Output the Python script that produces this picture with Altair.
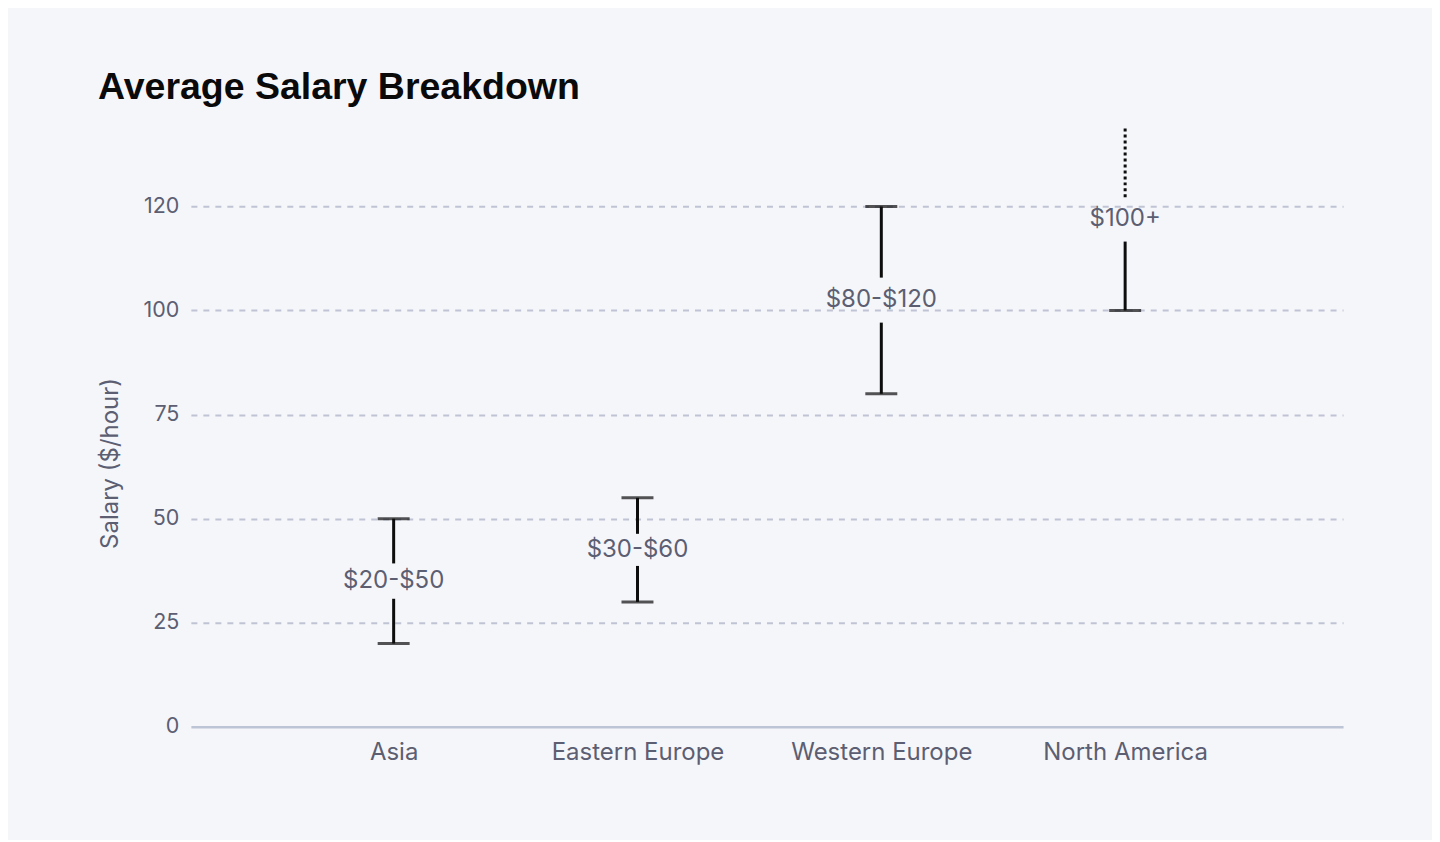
import altair as alt
import pandas as pd

# ---- data ----
regions = ["Asia", "Eastern Europe", "Western Europe", "North America"]
low = [20, 30, 80, 100]
high = [50, 55, 120, 135]
range_labels = ["$20-$50", "$30-$60", "$80-$120", "$100+"]
open_ended = [False, False, False, True]
tick_values = [0, 25, 50, 75, 100, 120]
tick_labels = ["0", "25", "50", "75", "100", "120"]

df = pd.DataFrame({
    "region": regions, "low": low, "high": high,
    "label": range_labels, "open": open_ended,
})

BG = "#f5f6fa"
TEXT = "#5c5e72"
GRID = "#c0c3d3"
AXISLINE = "#bcc4d6"
INK = "#0d0d0d"
FONT = "Inter"

# piecewise axis: evenly spaced ticks 0,25,50,75,100,120
def pos(f):
    return f"datum.{f} <= 100 ? datum.{f} / 25 : 4 + (datum.{f} - 100) / 20"

label_js = "[" + ",".join(f"'{t}'" for t in tick_labels) + "]"

base = alt.Chart(df).transform_calculate(
    plo=pos("low"), phi=pos("high")
).transform_calculate(
    pmid="(datum.plo + datum.phi) / 2",
    gh="(0.1536 + 0.155 * (datum.phi - datum.plo)) / 2",
).transform_calculate(
    lo_end="datum.pmid - datum.gh",
    up_start="datum.pmid + datum.gh",
)

x_enc = alt.X(
    "region:N", sort=regions,
    scale=alt.Scale(type="point", padding=0.8627, align=0.482),
    axis=alt.Axis(title=None, labelAngle=0, labelFontSize=24, labelColor=TEXT,
                  labelFont=FONT, labelPadding=14, labelLimit=400, ticks=False,
                  domainColor=AXISLINE, domainWidth=2.5, grid=False),
)

y_axis = alt.Axis(
    title="Salary ($/hour)", titleFont=FONT, titleFontSize=24, titleFontWeight="normal",
    titleColor=TEXT, titlePadding=21, titleY=340,
    values=list(range(len(tick_values))), labelExpr=f"{label_js}[datum.value]",
    labelFont=FONT, labelFontSize=21.5, labelColor=TEXT, labelPadding=12,
    ticks=False, domain=False, grid=True, gridDash=[6, 6], gridWidth=2,
    gridColor={"condition": {"test": "datum.value === 0", "value": "transparent"}, "value": GRID},
)
y_scale = alt.Scale(domain=[0, 5.8], nice=False, zero=True)

def Y(f):
    return alt.Y(f"{f}:Q", scale=y_scale, axis=y_axis)

SW = 3
lower = base.mark_rule(color=INK, strokeWidth=SW).encode(
    x=x_enc, y=Y("plo"), y2="lo_end:Q")
upper_solid = base.transform_filter("!datum.open").mark_rule(color=INK, strokeWidth=SW).encode(
    x=x_enc, y=Y("up_start"), y2="phi:Q")
upper_dotted = base.transform_filter("datum.open").mark_rule(
    color=INK, strokeWidth=SW, strokeDash=[3, 3]).encode(
    x=x_enc, y=Y("up_start"), y2="phi:Q")
cap_low = base.mark_tick(color=INK, size=32, thickness=SW).encode(x=x_enc, y=Y("plo"))
cap_high = base.transform_filter("!datum.open").mark_tick(
    color=INK, size=32, thickness=SW).encode(x=x_enc, y=Y("phi"))
labels = base.mark_text(font=FONT, fontSize=24, color=TEXT, baseline="middle").encode(
    x=x_enc, y=Y("pmid"), text="label:N")

chart = alt.layer(lower, upper_solid, upper_dotted, cap_low, cap_high, labels).properties(
    width=1153, height=604,
    padding={"left": 90, "top": 60, "right": 89, "bottom": 75},
    title=alt.TitleParams(
        "Average Salary Breakdown", anchor="start", frame="bounds",
        font="Liberation Sans", fontSize=37.5, fontWeight="bold", color="#0a0a0a",
        offset=17,
    ),
).configure(background=BG).configure_view(stroke=None)

chart.save("out.html", embed_options={"renderer": "svg", "actions": False})
